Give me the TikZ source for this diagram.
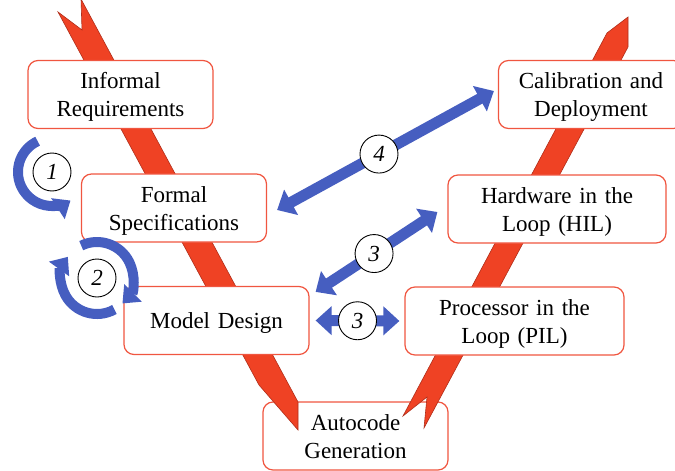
\documentclass[tikz,border=0pt]{standalone}
\usepackage{fontspec}
\setmainfont{Liberation Serif}
\usetikzlibrary{arrows.meta}

\definecolor{vred}{RGB}{239,66,36}
\definecolor{vredline}{RGB}{176,46,26}
\definecolor{boxline}{RGB}{240,86,64}
\definecolor{loopblue}{RGB}{70,94,192}

\begin{document}
\begin{tikzpicture}[x=1pt, y=-1pt, every node/.style={font=\rmfamily\fontsize{23}{28}\selectfont},
  stage/.style={draw=boxline, fill=white, line width=1.2pt, rounded corners=10pt,
    minimum width=185pt, minimum height=68pt, text width=175pt, align=center, inner sep=0pt,
    execute at begin node={\rule{0pt}{22.5pt}}, execute at end node={\rule[-6pt]{0pt}{6pt}}},
  wide/.style={minimum width=218pt, text width=210pt},
  stepnum/.style={circle, draw=black, fill=white, line width=0.9pt, minimum size=38pt,
    inner sep=0pt, font=\rmfamily\fontsize{23}{28}\selectfont\itshape},
  vband/.style={fill=vred, draw=vredline, line width=0.6pt},
  turnarrow/.style={draw=loopblue, line width=10pt, -{Triangle[width=24pt,length=15pt]}},
  pairarrow/.style={draw=loopblue, line width=11pt,
    {Triangle[width=28pt,length=16pt]}-{Triangle[width=28pt,length=16pt]}}]

  \useasboundingbox (0,0) rectangle (675,471);

  % Bottom of the V (under both arms)
  \node[stage] (autocode) at (355.5,436) {Autocode\\Generation};

  % Left arm of the V, notched tail at the top
  \draw[vband] (58,12) -- (82,30) -- (81,-1) -- (298,402) -- (298,430) -- (259,385) -- cycle;

  % Right arm of the V, tip at the top
  \draw[vband] (403,416) -- (427,397) -- (424,428) -- (628,47) -- (628,17) -- (607,33) -- cycle;

  % Design side
  \node[stage] (informal) at (120.5,94.5) {Informal\\Requirements};
  \node[stage] (formal) at (174,208) {Formal\\Specifications};
  \node[stage] (model) at (216.5,320.5) {Model Design};

  % Test side
  \node[stage] (calib) at (591,94.5) {Calibration and\\Deployment};
  \node[stage, wide] (hil) at (557,209) {Hardware in the\\Loop (HIL)};
  \node[stage, wide, minimum width=219pt] (pil) at (514.5,321) {Processor in the\\Loop (PIL)};

  % Iteration loops 1 and 2
  \node[stepnum] (one) at (52,172) {1};
  \draw[turnarrow] ([shift={(-115:34)}]one.center) arc[start angle=-115, end angle=-303, radius=34];

  \node[stepnum] (two) at (97,278) {2};
  \draw[turnarrow] ([shift={(-116:36)}]two.center) arc[start angle=-116, end angle=45, radius=36];
  \draw[turnarrow] ([shift={(61:36)}]two.center) arc[start angle=61, end angle=216, radius=36];

  % Verification links 3 and 4
  \draw[pairarrow] ([xshift=10pt,yshift=-2pt]formal.east) -- node[stepnum, pos=.47] (four) {4} ([xshift=-4pt,yshift=3.5pt]calib.west);
  \draw[pairarrow] ([xshift=6pt,yshift=-6pt]model.north east) -- node[stepnum, pos=.48] (threeh) {3} ([xshift=-10pt,yshift=-3pt]hil.west);
  \draw[pairarrow] ([xshift=6pt]model.east) -- node[stepnum] (threep) {3} ([xshift=-5pt]pil.west);

\end{tikzpicture}
\end{document}
